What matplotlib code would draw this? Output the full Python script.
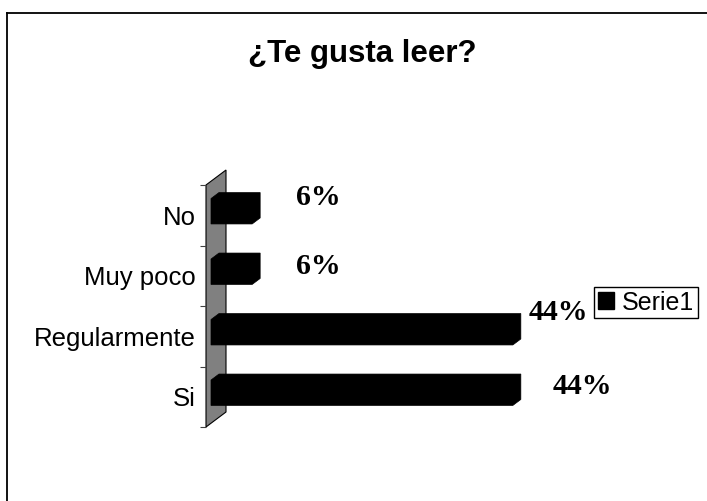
import matplotlib
matplotlib.use("Agg")
import matplotlib.pyplot as plt
from matplotlib.patches import Polygon, Patch
from matplotlib.lines import Line2D
import numpy as np

# data
categorias = ["No", "Muy poco", "Regularmente", "Si"]
porcentajes = [6, 6, 44, 44]
etiquetas = ["6%", "6%", "44%", "44%"]
titulo = "¿Te gusta leer?"
serie = "Serie1"

W, H = 707, 501
fig = plt.figure(figsize=(W / 100, H / 100), dpi=100)
ax = fig.add_axes([206 / W, (H - 427) / H, 343 / W, 242 / H])
ax.set_xlim(0, 50)
ax.set_ylim(len(categorias) - 0.5, -0.5)
for s in ax.spines.values():
    s.set_visible(False)
ax.xaxis.set_visible(False)

inv = ax.transData.inverted()


def shifted(x, y, dx, dy):
    # move a data point by some pixels (3D depth), back to data coords
    px, py = ax.transData.transform((x, y))
    return inv.transform((px + dx, py + dy))


# grey side wall
n = len(categorias)
wall = [(0, n - 0.5), (0, -0.5), shifted(0, -0.5, 20, 15), shifted(0, n - 0.5, 20, 15)]
ax.add_patch(Polygon(wall, closed=True, facecolor="#808080", edgecolor="black",
                     linewidth=0.8, clip_on=False, zorder=1))

# 3D looking bars
h = 0.42
for i, v in enumerate(porcentajes):
    verts = [shifted(0, i + h / 2, 5, 4), shifted(0, i - h / 2, 5, 4),
             shifted(0, i - h / 2, 13, 10), shifted(v, i - h / 2, 13, 10),
             shifted(v, i + h / 2, 13, 10), shifted(v, i + h / 2, 5, 4)]
    ax.add_patch(Polygon(verts, closed=True, facecolor="black", edgecolor="black",
                         linewidth=0.5, clip_on=False, zorder=2))

# value labels
lab_dx = [49, 49, 21, 45]
lab_dy = [18, 9, 24, 10]
for i, (v, t) in enumerate(zip(porcentajes, etiquetas)):
    ax.annotate(t, (v, i), xytext=(lab_dx[i], lab_dy[i]), textcoords="offset pixels",
                ha="left", va="center", fontfamily="Liberation Serif",
                fontweight="bold", fontsize=21.5, annotation_clip=False)

# category axis
ax.set_yticks(range(n))
ax.set_yticklabels(categorias, fontfamily="Liberation Sans", fontsize=18.5)
ax.tick_params(axis="y", which="major", length=0, pad=7.2)
ax.set_yticks(np.arange(-0.5, n, 1), minor=True)
ax.tick_params(axis="y", which="minor", length=4.3, width=0.8, color="#404040")

# title
fig.text(362 / W, 1 - 62 / H, titulo, ha="center", va="baseline",
         fontfamily="Liberation Sans", fontweight="bold", fontsize=22.5)

# legend
leg = fig.legend([Patch(facecolor="black", edgecolor="black")], [serie],
                 loc="center", bbox_to_anchor=(646 / W, 1 - 302.5 / H),
                 frameon=True, fancybox=False, edgecolor="black", framealpha=1,
                 prop={"family": "Liberation Sans", "size": 18},
                 handlelength=0.64, handleheight=0.64, handletextpad=0.32,
                 borderpad=0.15, borderaxespad=0)
leg.get_frame().set_linewidth(1)

# chart area border (left and top visible)
fig.add_artist(Line2D([7 / W, 7 / W], [0, 1 - 13 / H], transform=fig.transFigure,
                      color="black", linewidth=1.3))
fig.add_artist(Line2D([7 / W, 1], [1 - 13 / H, 1 - 13 / H], transform=fig.transFigure,
                      color="black", linewidth=1.3))

fig.savefig("out.png", dpi=100)
